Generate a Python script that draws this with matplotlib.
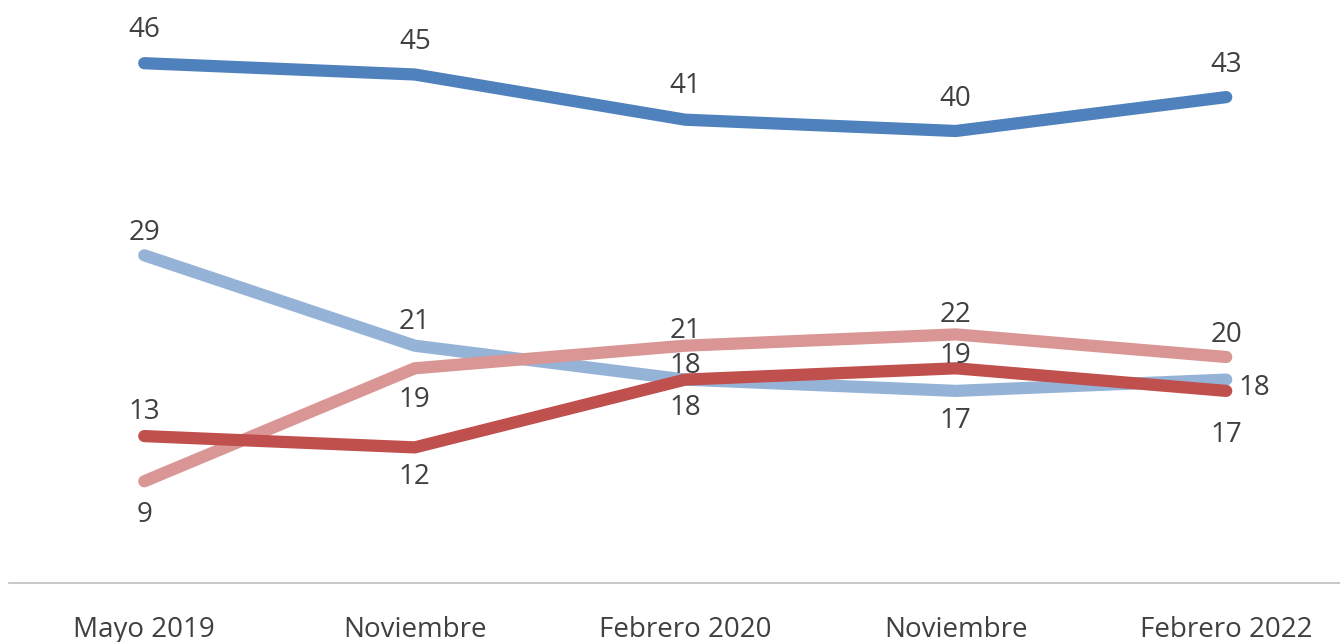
import matplotlib
matplotlib.use("Agg")
import matplotlib.pyplot as plt

categories = ["Mayo 2019", "Noviembre", "Febrero 2020", "Noviembre", "Febrero 2022"]
serie_azul = [46, 45, 41, 40, 43]
serie_azul_claro = [29, 21, 18, 17, 18]
serie_rosa = [9, 19, 21, 22, 20]
serie_roja = [13, 12, 18, 19, 17]

# label offsets (dx px, dy px up) for each data label
off_azul = [(0, 36), (0, 35), (0, 36), (0, 34), (0, 35)]
off_azul_claro = [(0, 24.5), (0, 26), (0, -26), (0, -28), (28, -6)]
off_rosa = [(0, -31), (0, -29), (0, 17), (0, 21.5), (0, 25)]
off_roja = [(0, 27), (0, -27), (0, 16.5), (0, 14.5), (0, -42)]

plt.rcParams['font.family'] = ['Open Sans', 'DejaVu Sans']

W, H = 1340, 642
fig = plt.figure(figsize=(W / 100, H / 100), dpi=100)
left_px, right_px, bottom_px = 9, 1340, 583
ax = fig.add_axes([left_px / W, (H - bottom_px) / H, (right_px - left_px) / W, bottom_px / H])

x = list(range(len(categories)))
series = [
    (serie_azul, "#4F81BD", off_azul),
    (serie_azul_claro, "#95B3D7", off_azul_claro),
    (serie_rosa, "#D99694", off_rosa),
    (serie_roja, "#C0504D", off_roja),
]

txt_color = "#404040"
PX = 0.72  # points per pixel at 100 dpi
for i, (vals, col, offs) in enumerate(series):
    ax.plot(x, vals, color=col, lw=8.8, solid_capstyle="round", solid_joinstyle="round", zorder=2 + i)
    for xi, v, (dx, dy) in zip(x, vals, offs):
        ax.annotate(str(v), (xi, v), xytext=(dx * PX, (dy - 2.5) * PX), textcoords="offset points",
                    ha="center", va="center", fontsize=20, color=txt_color, zorder=20)

ax.set_ylim(0, 583 / 11.3)
ax.set_xlim(-0.5, (right_px - left_px) / 270.5 - 0.5)
ax.set_xticks(x)
ax.set_xticklabels(categories, fontsize=20, color=txt_color)
ax.tick_params(axis="x", length=0, pad=24)
ax.set_yticks([])
for s in ["top", "right", "left"]:
    ax.spines[s].set_visible(False)
ax.spines["bottom"].set_color("#BFBFBF")
ax.spines["bottom"].set_linewidth(1.2)
ax.patch.set_alpha(0)

fig.savefig("out.png", dpi=100)
